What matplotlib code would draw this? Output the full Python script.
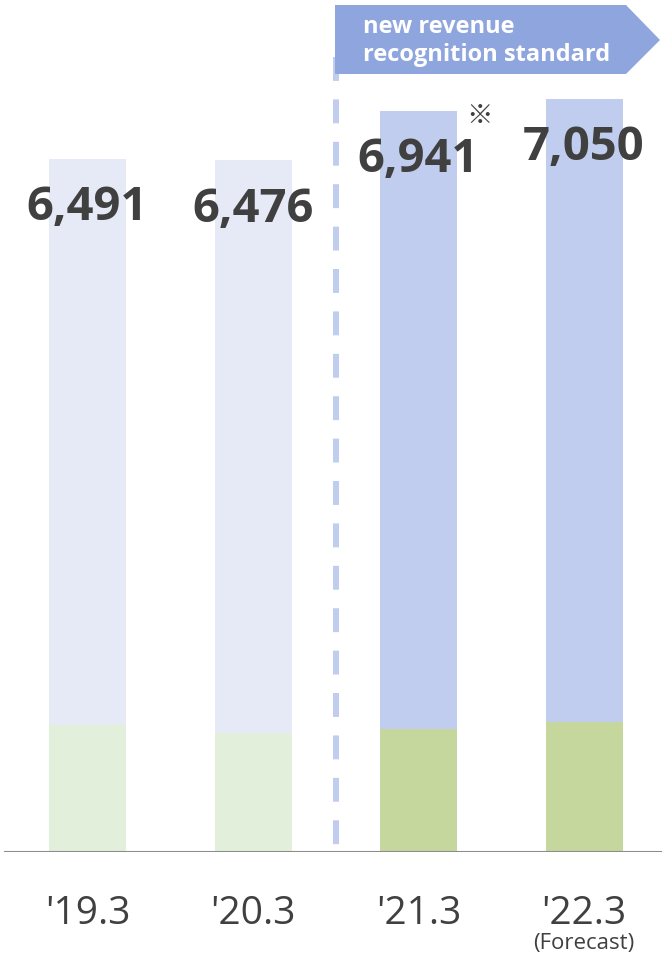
import matplotlib
matplotlib.use('Agg')
import matplotlib.pyplot as plt
from matplotlib.patches import Polygon

plt.rcParams['font.family'] = ['Open Sans', 'Noto Sans CJK JP', 'DejaVu Sans']

# data
years = ["'19.3", "'20.3", "'21.3", "'22.3"]
totals = [6491, 6476, 6941, 7050]
lower = [1190, 1115, 1150, 1215]
upper = [t - l for t, l in zip(totals, lower)]
total_labels = ['6,491', '6,476', '6,941', '7,050']

green_cols = ['#e2efda', '#e2efda', '#c5d79d', '#c5d79d']
blue_cols = ['#e6eaf7', '#e6eaf7', '#c0cdee', '#c0cdee']

fig = plt.figure(figsize=(6.62, 9.57), dpi=100)
ax = fig.add_axes([0, 0.1097, 1, 0.8903])
x = range(len(years))
ax.bar(x, lower, width=0.465, color=green_cols)
ax.bar(x, upper, bottom=lower, width=0.465, color=blue_cols)

ax.set_xlim(-0.529, 3.471)
ax.set_ylim(0, 7978)

# value labels
for i, t in enumerate(totals):
    ax.annotate(total_labels[i], (i, t), xytext=(0, -35), textcoords='offset points',
                ha='center', va='center', fontsize=34, fontweight='bold', color='#404040')
ax.annotate('※', (2, totals[2]), xytext=(44, -5), textcoords='offset points',
            ha='center', va='center', fontsize=19, color='#404040')

# separator line (dashes start from the top)
ax.plot([1.5, 1.5], [0.933, 0.004], transform=ax.get_xaxis_transform(),
        color='#c0cdee', lw=4.3, linestyle=(0, (4.0, 3.1)), solid_capstyle='butt')

# baseline
ax.axhline(0, xmin=0.008, xmax=1, color='#8c8c8c', lw=1.5)

for s in ax.spines.values():
    s.set_visible(False)
ax.set_yticks([])
ax.set_xticks(list(x))
ax.set_xticklabels(years, fontsize=28, color='#404040')
ax.tick_params(axis='x', length=0, pad=31)
ax.text(3, -0.107, '(Forecast)', transform=ax.get_xaxis_transform(),
        ha='center', va='center', fontsize=16, color='#404040')

# banner arrow
banner = Polygon([(335, 952), (626, 952), (660, 917), (626, 883), (335, 883)],
                 closed=True, transform=None, facecolor='#8fa5de', edgecolor='none')
fig.patches.append(banner)
fig.text(363 / 662, 1 - 41 / 957, 'new revenue\nrecognition standard', ha='left', va='center',
         fontsize=17, fontweight='bold', color='white', linespacing=1.25)

fig.savefig('out.png', dpi=100)
